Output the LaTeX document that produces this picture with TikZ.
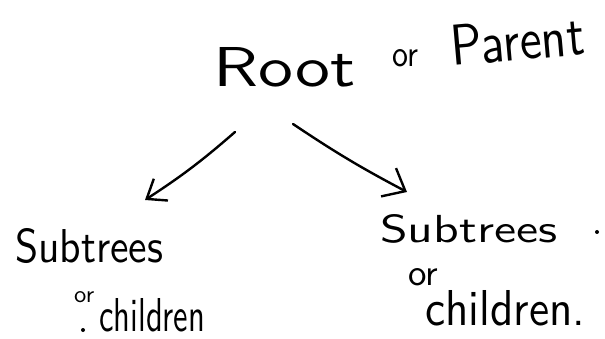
\documentclass[tikz,border=0pt]{standalone}
\usepackage{graphicx}
\usetikzlibrary{arrows.meta}

% a word set to an exact width and height (above the baseline)
\newcommand{\pen}[3]{\resizebox{#1pt}{#2pt}{#3}}

\begin{document}
\begin{tikzpicture}[x=1pt,y=-1pt,
  word/.style={anchor=base west, inner sep=0pt, font=\sffamily},
  link/.style={line width=2.4pt, line cap=round, line join=round},
  markdot/.style={circle, fill=black, inner sep=0pt, minimum size=4pt}]
  \useasboundingbox[fill=white] (0,0) rectangle (605,339);

  % top label
  \node[word] (root) at (213,87) {\pen{142}{39}{Root}};
  \node[word] (rootor) at (392,67) {\pen{26}{17}{or}};
  \node[word, rotate=5] (parent) at (452,66) {\pen{134}{40}{Parent}};

  % left branch
  \node[word] (subL) at (15,262) {\pen{148}{34}{Subtrees}};
  \node[word] (orL) at (74,302) {\pen{20}{11}{or}};
  \node[word] (chL) at (99,331) {\pen{106}{33}{children}};
  \node[markdot] (dotL) at (83,330) {};

  % right branch
  \node[word] (subR) at (380,243) {\pen{177}{28}{Subtrees}};
  \node[markdot] (dotR) at (597,232) {};
  \node[word] (orR) at (408,285) {\pen{30}{17}{or}};
  \node[word] (chR) at (425,325) {\pen{160}{35}{children.}};

  % arrow ends
  \coordinate (aLs) at (235,132);
  \coordinate (aLe) at (145,200);
  \coordinate (aRs) at (293,124);
  \coordinate (aRe) at (407,192);

  \draw[link, -{Straight Barb[length=17pt,width=26pt,line width=2.4pt]}]
    (aLs) to[bend left=4] (aLe);
  \draw[link, -{Straight Barb[length=19pt,width=32pt,line width=2.4pt]}]
    (aRs) to[bend right=3] (aRe);
\end{tikzpicture}
\end{document}
